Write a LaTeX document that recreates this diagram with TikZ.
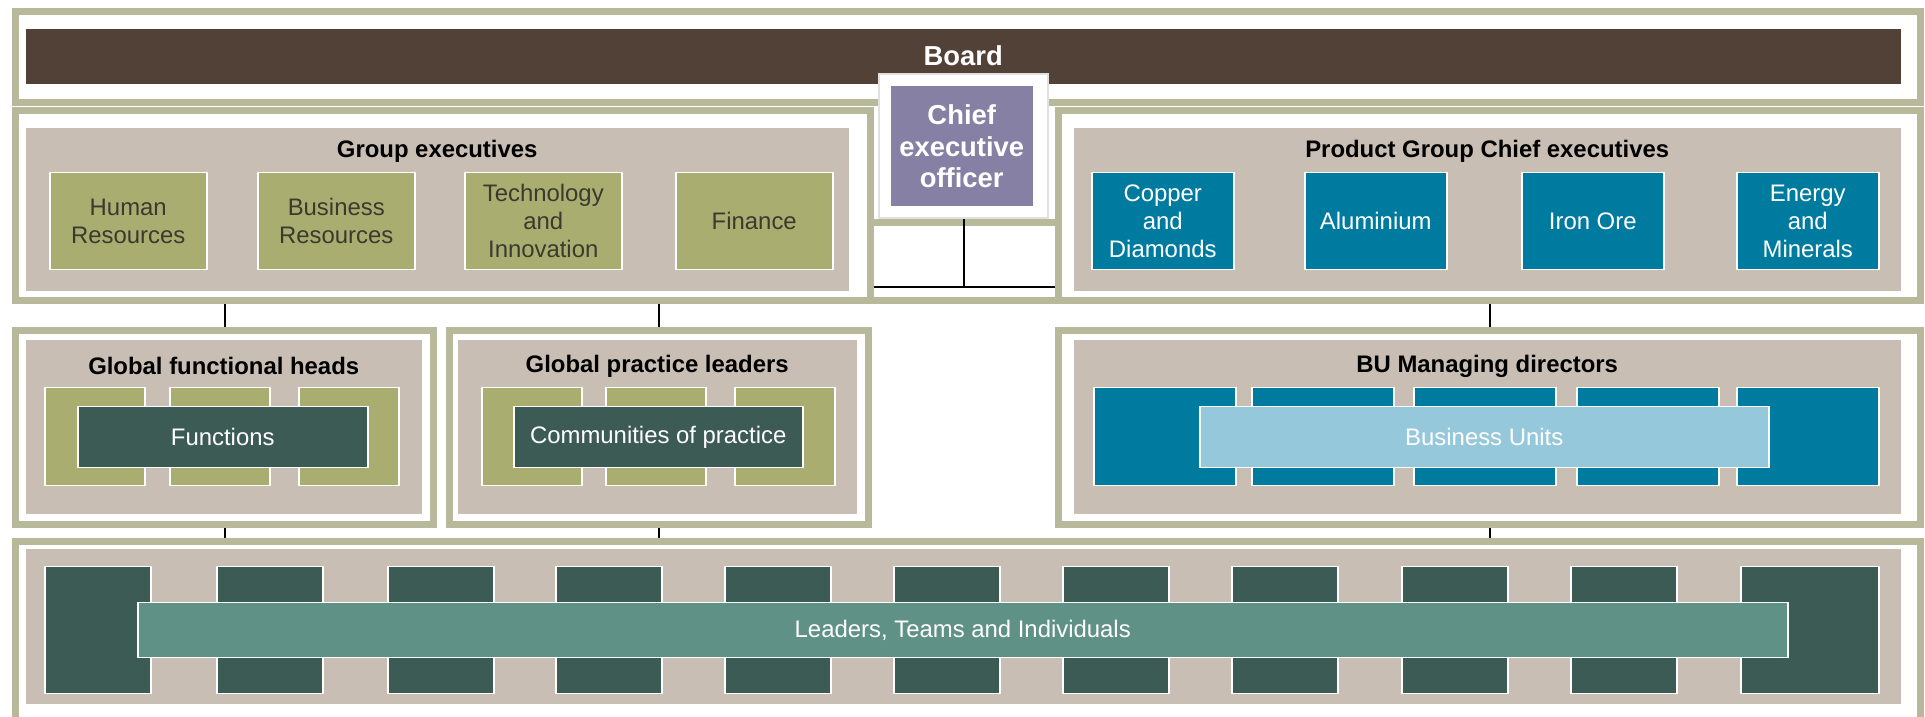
\documentclass[tikz,border=0pt]{standalone}
\usepackage{fontspec}
\setmainfont{Liberation Sans}
\definecolor{boardbrown}{RGB}{82,65,55}
\definecolor{framekhaki}{RGB}{184,184,154}
\definecolor{paneltan}{RGB}{200,190,180}
\definecolor{cellolive}{RGB}{169,174,112}
\definecolor{cellteal}{RGB}{0,123,160}
\definecolor{ceopurple}{RGB}{133,128,164}
\definecolor{celldark}{RGB}{61,91,85}
\definecolor{cellsky}{RGB}{150,200,220}
\definecolor{cellsea}{RGB}{95,145,135}
\definecolor{olivetext}{RGB}{58,58,46}
\newcommand\cellfnt{\fontsize{6.8}{8}\selectfont}
\newcommand\titlefnt{\fontsize{6.8}{8}\selectfont\bfseries}
\newcommand\bigfnt{\fontsize{7.8}{8.9}\selectfont\bfseries}
\begin{document}
\begin{tikzpicture}[
	frame/.style={anchor=north west, inner sep=0pt, fill=white, draw=framekhaki, line width=0.07cm},
	panel/.style={anchor=north west, inner sep=0pt, fill=paneltan},
	cell/.style={anchor=north west, inner sep=0pt, draw=white, line width=0.015cm, align=center, font=\cellfnt},
	olivecell/.style={cell, fill=cellolive, text=olivetext},
	tealcell/.style={cell, fill=cellteal, text=white},
	darkcell/.style={cell, fill=celldark, text=white},
	title/.style={font=\titlefnt, text=black},
	link/.style={draw=black, line width=0.02cm}
]
	\useasboundingbox (0cm,0cm) rectangle (19.25cm,-7.17cm);
	% board
	\node[frame, minimum width=19.05cm, minimum height=0.91cm] (boardf) at (0.12cm,-0.08cm) {};
	\node[panel, fill=boardbrown, text=white, font=\bigfnt, minimum width=18.75cm, minimum height=0.55cm] (board) at (0.25cm,-0.28cm) {Board};
	% second row
	\node[frame, minimum width=1.91cm, minimum height=0.78cm] (midf) at (8.66cm,-2.19cm) {};
	\node[frame, minimum width=8.55cm, minimum height=1.90cm] (gexecf) at (0.12cm,-1.07cm) {};
	\node[frame, minimum width=8.62cm, minimum height=1.90cm] (pgcef) at (10.55cm,-1.07cm) {};
	\node[anchor=north west, inner sep=0pt, fill=white, draw=black!12, line width=0.02cm, minimum width=1.69cm, minimum height=1.44cm] (ceof) at (8.78cm,-0.73cm) {};
	\node[cell, fill=ceopurple, text=white, font=\bigfnt, minimum width=1.44cm, minimum height=1.21cm] (ceo) at (8.89cm,-0.85cm) {Chief\\executive\\officer};
	\node[panel, minimum width=8.23cm, minimum height=1.63cm] (gexec) at (0.25cm,-1.27cm) {};
	\node[title] (gextitle) at ([yshift=-0.24cm]gexec.north) {Group executives};
	\begin{scope}[every node/.style={olivecell, minimum width=1.57cm, minimum height=0.97cm}]
		\node (hr) at (0.49cm,-1.72cm) {Human\\Resources};
		\node (br) at (2.57cm,-1.72cm) {Business\\Resources};
		\node (ti) at (4.64cm,-1.72cm) {Technology\\and\\Innovation};
		\node (fin) at (6.75cm,-1.72cm) {Finance};
	\end{scope}
	\node[panel, minimum width=8.27cm, minimum height=1.63cm] (pgce) at (10.73cm,-1.27cm) {};
	\node[title] (pgtitle) at ([yshift=-0.24cm]pgce.north) {Product Group Chief executives};
	\begin{scope}[every node/.style={tealcell, minimum width=1.42cm, minimum height=0.97cm}]
		\node (cud) at (10.91cm,-1.72cm) {Copper\\and\\Diamonds};
		\node (alu) at (13.04cm,-1.72cm) {Aluminium};
		\node (ore) at (15.21cm,-1.72cm) {Iron Ore};
		\node (enm) at (17.36cm,-1.72cm) {Energy\\and\\Minerals};
	\end{scope}
	% third row
	\node[frame, minimum width=4.18cm, minimum height=1.94cm] (fghf) at (0.12cm,-3.27cm) {};
	\node[frame, minimum width=4.19cm, minimum height=1.94cm] (gplf) at (4.46cm,-3.27cm) {};
	\node[frame, minimum width=8.62cm, minimum height=1.94cm] (bumf) at (10.55cm,-3.27cm) {};
	\node[panel, minimum width=3.96cm, minimum height=1.74cm] (fgh) at (0.25cm,-3.39cm) {};
	\node[panel, minimum width=3.99cm, minimum height=1.74cm] (gpl) at (4.57cm,-3.39cm) {};
	\node[panel, minimum width=8.27cm, minimum height=1.74cm] (bum) at (10.73cm,-3.39cm) {};
	\node[title] (fghtitle) at ([yshift=-0.27cm]fgh.north) {Global functional heads};
	\node[title] (gpltitle) at ([yshift=-0.27cm]gpl.north) {Global practice leaders};
	\node[title] (bumtitle) at ([yshift=-0.27cm]bum.north) {BU Managing directors};
	\begin{scope}[every node/.style={olivecell, minimum width=1.0cm, minimum height=0.98cm}]
		\node (fgh1) at (0.44cm,-3.87cm) {};
		\node (fgh2) at (1.69cm,-3.87cm) {};
		\node (fgh3) at (2.98cm,-3.87cm) {};
		\node (gpl1) at (4.81cm,-3.87cm) {};
		\node (gpl2) at (6.05cm,-3.87cm) {};
		\node (gpl3) at (7.34cm,-3.87cm) {};
	\end{scope}
	\node[darkcell, minimum width=2.90cm, minimum height=0.61cm] (funcs) at (0.77cm,-4.06cm) {Functions};
	\node[darkcell, minimum width=2.89cm, minimum height=0.61cm] (comms) at (5.13cm,-4.06cm) {Communities of practice};
	\begin{scope}[every node/.style={tealcell, minimum width=1.42cm, minimum height=0.98cm}]
		\node (bu1) at (10.93cm,-3.87cm) {};
		\node (bu2) at (12.51cm,-3.87cm) {};
		\node (bu3) at (14.13cm,-3.87cm) {};
		\node (bu4) at (15.76cm,-3.87cm) {};
		\node (bu5) at (17.36cm,-3.87cm) {};
	\end{scope}
	\node[cell, fill=cellsky, text=white, minimum width=5.69cm, minimum height=0.61cm] (units) at (11.99cm,-4.06cm) {Business Units};
	% bottom row
	\node[frame, minimum width=19.05cm, minimum height=1.80cm] (ltif) at (0.12cm,-5.38cm) {};
	\node[panel, minimum width=18.75cm, minimum height=1.55cm] (lti) at (0.25cm,-5.48cm) {};
	\begin{scope}[every node/.style={darkcell, minimum width=1.06cm, minimum height=1.27cm}]
		\node (t1) at (0.44cm,-5.66cm) {};
		\node (t2) at (2.16cm,-5.66cm) {};
		\node (t3) at (3.87cm,-5.66cm) {};
		\node (t4) at (5.55cm,-5.66cm) {};
		\node (t5) at (7.24cm,-5.66cm) {};
		\node (t6) at (8.93cm,-5.66cm) {};
		\node (t7) at (10.62cm,-5.66cm) {};
		\node (t8) at (12.31cm,-5.66cm) {};
		\node (t9) at (14.01cm,-5.66cm) {};
		\node (t10) at (15.70cm,-5.66cm) {};
		\node[minimum width=1.38cm] (t11) at (17.40cm,-5.66cm) {};
	\end{scope}
	\node[cell, fill=cellsea, text=white, minimum width=16.50cm, minimum height=0.55cm] (leaders) at (1.37cm,-6.02cm) {Leaders, Teams and Individuals};
	% links
	\coordinate (ceoj) at ([yshift=-0.68cm]ceof.south);
	\draw[link] (ceof.south) -- (ceoj);
	\draw[link] (gexecf.east |- ceoj) -- (pgcef.west |- ceoj);
	\draw[link] (fghf.north) -- (fghf.north |- gexecf.south);
	\draw[link] (gplf.north) -- (gplf.north |- gexecf.south);
	\draw[link] (bumf.north) -- (bumf.north |- pgcef.south);
	\draw[link] (fghf.south) -- (fghf.south |- ltif.north);
	\draw[link] (gplf.south) -- (gplf.south |- ltif.north);
	\draw[link] (bumf.south) -- (bumf.south |- ltif.north);
\end{tikzpicture}
\end{document}
